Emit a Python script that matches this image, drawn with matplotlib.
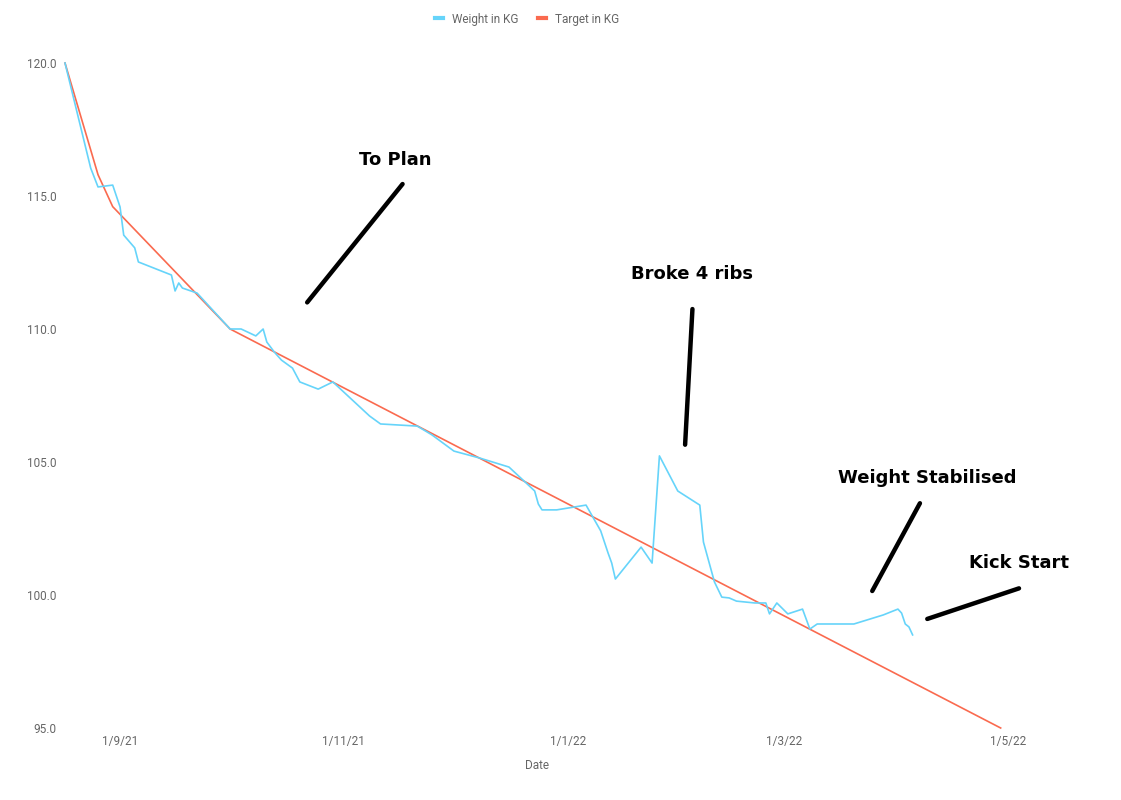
import matplotlib.pyplot as plt
import pandas as pd

# weigh-ins
weight_dates = ["2021-08-17", "2021-08-24", "2021-08-26", "2021-08-30", "2021-09-01",
                "2021-09-02", "2021-09-05", "2021-09-06", "2021-09-15", "2021-09-16",
                "2021-09-17", "2021-09-18", "2021-09-22", "2021-10-01", "2021-10-04",
                "2021-10-08", "2021-10-10", "2021-10-11", "2021-10-13", "2021-10-15",
                "2021-10-18", "2021-10-20", "2021-10-25", "2021-10-29", "2021-11-08",
                "2021-11-11", "2021-11-21", "2021-11-25", "2021-12-01", "2021-12-08",
                "2021-12-16", "2021-12-21", "2021-12-23", "2021-12-24", "2021-12-25",
                "2021-12-29", "2022-01-06", "2022-01-10", "2022-01-12", "2022-01-13",
                "2022-01-14", "2022-01-21", "2022-01-24", "2022-01-26", "2022-01-31",
                "2022-02-06", "2022-02-07", "2022-02-10", "2022-02-12", "2022-02-14",
                "2022-02-16", "2022-02-21", "2022-02-24", "2022-02-25", "2022-02-27",
                "2022-03-02", "2022-03-06", "2022-03-08", "2022-03-10", "2022-03-20",
                "2022-03-28", "2022-04-01", "2022-04-02", "2022-04-03", "2022-04-04",
                "2022-04-05"]
weight_kg = [120.0, 116.05, 115.34, 115.41, 114.59,
             113.53, 113.05, 112.52, 112.03, 111.43,
             111.73, 111.54, 111.35, 110.0, 110.0,
             109.74, 110.0, 109.51, 109.14, 108.83,
             108.53, 108.01, 107.74, 108.01, 106.73,
             106.43, 106.35, 106.02, 105.41, 105.15,
             104.81, 104.17, 103.91, 103.42, 103.2,
             103.2, 103.38, 102.41, 101.58, 101.2,
             100.6, 101.8, 101.2, 105.23, 103.91,
             103.38, 101.99, 100.49, 99.92, 99.89,
             99.77, 99.7, 99.7, 99.29, 99.7,
             99.29, 99.47, 98.72, 98.91, 98.91,
             99.25, 99.47, 99.32, 98.91, 98.8,
             98.5]

target_dates = ["2021-08-17", "2021-08-26", "2021-08-30", "2021-10-01", "2022-04-29"]
target_kg = [120.0, 115.8, 114.6, 110.0, 95.0]

tick_dates = ["2021-09-01", "2021-11-01", "2022-01-01", "2022-03-01", "2022-05-01"]
tick_labels = ["1/9/21", "1/11/21", "1/1/22", "1/3/22", "1/5/22"]
y_ticks = [95, 100, 105, 110, 115, 120]

# notes: text, text position, line start, line end
notes = [
    ("To Plan", ("2021-11-15", 116.35), ("2021-11-17", 115.45), ("2021-10-22", 111.0)),
    ("Broke 4 ribs", ("2022-02-04", 112.05), ("2022-02-04", 110.75), ("2022-02-02", 105.65)),
    ("Weight Stabilised", ("2022-04-09", 104.4), ("2022-04-07", 103.45), ("2022-03-25", 100.15)),
    ("Kick Start", ("2022-05-04", 101.2), ("2022-05-04", 100.25), ("2022-04-09", 99.1)),
]

blue = "#66d4fa"
red = "#fa6a4f"
grey = "#666666"

plt.rcParams["font.family"] = ["Roboto", "DejaVu Sans"]

fig = plt.figure(figsize=(11.21, 8), dpi=100)
ax = fig.add_axes([65 / 1121, 72 / 800, 943 / 1121, 665 / 800])

ax.plot(pd.to_datetime(weight_dates), weight_kg, color=blue, lw=1.2,
        label="Weight in KG", clip_on=False, zorder=3)
ax.plot(pd.to_datetime(target_dates), target_kg, color=red, lw=1.2,
        label="Target in KG", clip_on=False, zorder=2)

for text, tpos, start, end in notes:
    ax.plot(pd.to_datetime([start[0], end[0]]), [start[1], end[1]], color="black",
            lw=3.2, solid_capstyle="round", clip_on=False)
    ax.text(pd.to_datetime(tpos[0]), tpos[1], text, ha="center", va="center",
            fontsize=13, fontweight="bold", family=["DejaVu Sans"], color="black")

ax.set_xlim(pd.Timestamp("2021-08-17"), pd.Timestamp("2022-05-01"))
ax.set_ylim(95, 120)
ax.set_xticks(pd.to_datetime(tick_dates))
ax.set_xticklabels(tick_labels)
ax.set_yticks(y_ticks)
ax.set_yticklabels([f"{v:.1f}" for v in y_ticks])
ax.tick_params(length=0, colors=grey, labelsize=8.5)
ax.tick_params(axis="y", pad=6)
ax.tick_params(axis="x", pad=5)
for s in ax.spines.values():
    s.set_visible(False)
ax.set_xlabel("Date", color=grey, fontsize=8.5, labelpad=8)

fig.legend(loc="center", bbox_to_anchor=(527 / 1121, 1 - 19 / 800), ncol=2,
           frameon=False, handlelength=0.7, handletextpad=0.8, columnspacing=1.6,
           fontsize=8.5, labelcolor=grey)
for line in fig.legends[0].get_lines():
    line.set_linewidth(3)

fig.savefig("out.png", dpi=100)
